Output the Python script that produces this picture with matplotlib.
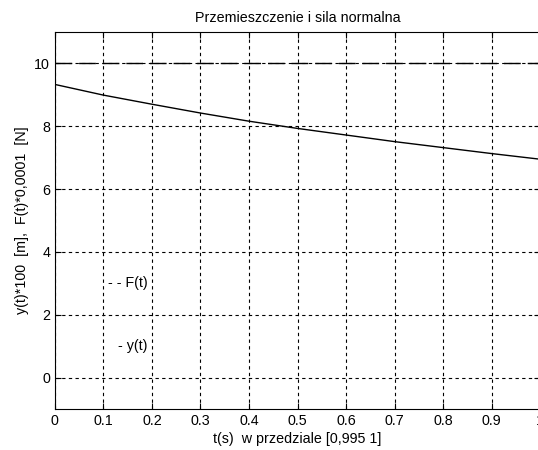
import numpy as np
import matplotlib.pyplot as plt

plt.rcParams['font.family'] = ['Liberation Sans', 'DejaVu Sans']

# values
t = [0.0, 0.1, 0.2, 0.3, 0.4, 0.5, 0.6, 0.7, 0.8, 0.9, 1.0]
y = [9.33, 8.99, 8.70, 8.42, 8.16, 7.93, 7.72, 7.51, 7.32, 7.13, 6.95]
F = [10.0] * len(t)

fig = plt.figure(figsize=(5.38, 4.5), dpi=100)
ax = fig.add_axes([0.102, 0.091, 0.902, 0.838])

ax.plot(t, y, color='black', linewidth=1)
ax.plot(t, F, color='black', linewidth=1, linestyle=(0, (12, 5)))

ax.set_xlim(0, 1)
ax.set_ylim(-1, 11)
ax.set_xticks(np.arange(0, 1.01, 0.1))
ax.set_xticklabels(['0', '0.1', '0.2', '0.3', '0.4', '0.5', '0.6', '0.7', '0.8', '0.9', '1'])
ax.set_yticks([0, 2, 4, 6, 8, 10])
ax.tick_params(direction='in', length=4, labelsize=10.3, top=True, right=True)
ax.grid(True, color='black', linestyle=(0, (3, 3)), linewidth=0.8)

ax.text(0.11, 3, '- - F(t)', fontsize=10.3, va='center')
ax.text(0.13, 1, '- y(t)', fontsize=10.3, va='center')

ax.set_title('Przemieszczenie i sila normalna', fontsize=10.3, pad=7)
ax.set_xlabel('t(s)  w przedziale [0,995 1]', fontsize=10.3, labelpad=3)
ax.set_ylabel('y(t)*100  [m],  F(t)*0,0001  [N]', fontsize=10.3, labelpad=4)

for s in ax.spines.values():
    s.set_linewidth(0.8)

fig.savefig('out.png', dpi=100)
